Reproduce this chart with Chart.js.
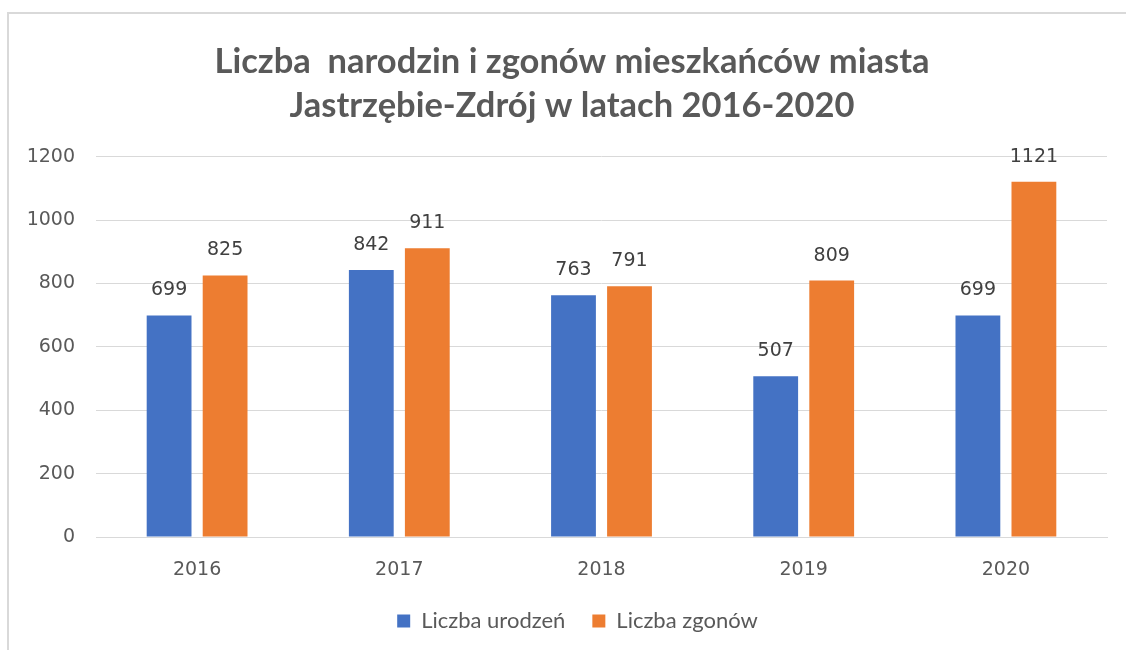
<!DOCTYPE html>
<html lang="pl">
<head>
<meta charset="utf-8">
<title>Liczba narodzin i zgonów</title>
<script src="https://cdn.jsdelivr.net/npm/chart.js@4"></script>
<style>
  body { margin: 0; background: #fff; }
  #ramka { position: absolute; left: 7px; top: 12px; width: 1130px; height: 650px;
           border-top: 2px solid #d9d9d9; border-left: 2px solid #d9d9d9; }
  #wrap { position: absolute; left: 0; top: 0; width: 1126px; height: 650px; }
</style>
</head>
<body>
<div id="ramka"></div>
<div id="wrap"><canvas id="wykres"></canvas></div>
<script>
// Dane
const lata = ["2016", "2017", "2018", "2019", "2020"];
const urodzenia = [699, 842, 763, 507, 699];
const zgony = [825, 911, 791, 809, 1121];
const tytul = ["Liczba  narodzin i zgonów mieszkańców miasta", "Jastrzębie-Zdrój w latach 2016-2020"];

const szary = "#595959";
const fontOsi = "'DejaVu Sans', sans-serif";

// Etykiety wartości nad słupkami
const etykiety = {
  id: "etykiety",
  afterDatasetsDraw(chart) {
    const ctx = chart.ctx;
    ctx.save();
    ctx.font = "19px " + fontOsi;
    ctx.fillStyle = "#404040";
    ctx.textAlign = "center";
    ctx.textBaseline = "middle";
    chart.data.datasets.forEach((ds, i) => {
      chart.getDatasetMeta(i).data.forEach((bar, j) => {
        ctx.fillText(ds.data[j], bar.x, bar.y - 25);
      });
    });
    ctx.restore();
  }
};

// Tytuł i legenda lekko przesunięte w prawo, jak w oryginale
const przesun = {
  id: "przesun",
  afterLayout(chart) {
    chart.titleBlock.left += 17;
    chart.legend.left += 14;
    chart.legend.right += 14;
  }
};

new Chart(document.getElementById("wykres"), {
  type: "bar",
  data: {
    labels: lata,
    datasets: [
      { label: "Liczba urodzeń", data: urodzenia, backgroundColor: "#4472C4" },
      { label: "Liczba zgonów", data: zgony, backgroundColor: "#ED7D31" }
    ]
  },
  options: {
    responsive: true,
    maintainAspectRatio: false,
    animation: false,
    layout: { padding: { left: 20, right: 19, top: 0, bottom: 8 } },
    datasets: { bar: { categoryPercentage: 0.554, barPercentage: 0.8 } },
    plugins: {
      tooltip: { enabled: false },
      title: {
        display: true,
        text: tytul,
        color: szary,
        font: { family: "Lato", size: 34.5, weight: "bold", lineHeight: 1.27 },
        padding: { top: 40, bottom: 29 }
      },
      legend: {
        position: "bottom",
        labels: {
          color: szary,
          font: { family: "Lato", size: 22 },
          boxWidth: 13,
          boxHeight: 13,
          padding: 27
        }
      }
    },
    scales: {
      x: {
        grid: { display: false, drawTicks: false },
        border: { display: true, color: "#d9d9d9" },
        ticks: { color: szary, font: { family: fontOsi, size: 19 }, padding: 22 },
        afterFit(scale) { scale.height = 46; }
      },
      y: {
        min: 0,
        max: 1200,
        grid: { color: "#d9d9d9", drawTicks: false },
        border: { display: false },
        ticks: {
          stepSize: 200,
          color: szary,
          font: { family: fontOsi, size: 19 },
          padding: 21,
          callback: v => String(v)
        },
        afterFit(scale) { scale.width = 76; }
      }
    }
  },
  plugins: [etykiety, przesun]
});
</script>
</body>
</html>
